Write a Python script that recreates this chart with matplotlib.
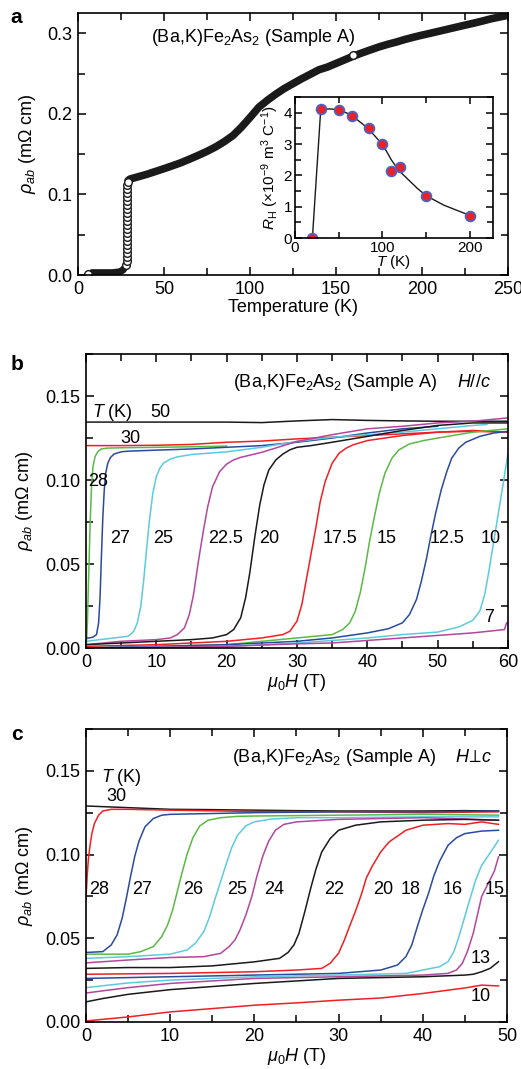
import matplotlib
matplotlib.use("Agg")
import matplotlib.pyplot as plt
from matplotlib.ticker import MultipleLocator, FormatStrFormatter

plt.rcParams['font.family'] = ['Liberation Sans', 'DejaVu Sans']
plt.rcParams['mathtext.fontset'] = 'custom'
plt.rcParams['mathtext.rm'] = 'Liberation Sans'
plt.rcParams['mathtext.it'] = 'Liberation Sans:italic'
plt.rcParams['mathtext.bf'] = 'Liberation Sans:bold'

BLACK = '#1a1a1a'
RED = '#ee2024'
GREEN = '#5cb946'
BLUE = '#2b4a9e'
CYAN = '#5ccbdc'
MAGENTA = '#b2479c'

FS = 13  # main text size

# ---- panel a: rho_ab(T) ----
a_low_T = [8, 10, 12, 14, 16, 18, 20, 22, 24, 26, 27, 27.8]
a_low_rho = [0.003, 0.003, 0.003, 0.003, 0.003, 0.003, 0.003, 0.0035, 0.004, 0.006, 0.009, 0.012]
a_trans_T = [27.9, 28.2, 28.4, 28.5, 28.5, 28.5, 28.5, 28.5, 28.5, 28.5, 28.5, 28.5,
             28.5, 28.5, 28.5, 28.5, 28.5, 28.5, 28.5, 28.6, 28.7, 28.9]
a_trans_rho = [0.012, 0.017, 0.022, 0.027, 0.032, 0.037, 0.042, 0.047, 0.052, 0.057, 0.062,
               0.067, 0.072, 0.077, 0.082, 0.087, 0.092, 0.097, 0.102, 0.107, 0.112, 0.116]
a_stray_T = [6, 160]
a_stray_rho = [0.0012, 0.2735]
a_T = [29, 30, 35, 40, 45, 50, 55, 60, 65, 70, 75, 80, 85, 90, 95, 100, 105, 110, 115, 120,
       125, 130, 135, 140, 145, 150, 155, 160, 165, 170, 175, 180, 185, 190, 195, 200, 205,
       210, 215, 220, 225, 230, 235, 240, 245, 250]
a_rho = [0.117, 0.119, 0.122, 0.125, 0.1285, 0.132, 0.1357, 0.1395, 0.144, 0.1486, 0.1535,
         0.159, 0.1655, 0.173, 0.1835, 0.1955, 0.208, 0.2167, 0.2245, 0.2315, 0.2375, 0.2435,
         0.249, 0.2546, 0.258, 0.2625, 0.267, 0.2715, 0.2755, 0.2793, 0.283, 0.2862, 0.289,
         0.2922, 0.295, 0.2976, 0.300, 0.3025, 0.305, 0.3075, 0.310, 0.3124, 0.315, 0.3178,
         0.320, 0.3222]

# inset: Hall coefficient
rh_T = [20, 30, 50, 65, 85, 100, 110, 120, 150, 200]
rh_val = [0.0, 4.12, 4.08, 3.9, 3.5, 3.0, 2.15, 2.27, 1.33, 0.72]
rh_guide_T = [20, 29.5, 35, 40, 50, 60, 70, 80, 90, 100, 105, 110, 115, 120, 130, 140, 150,
              170, 200]
rh_guide = [0.0, 4.1, 4.12, 4.12, 4.1, 3.98, 3.8, 3.58, 3.3, 2.98, 2.75, 2.5, 2.3, 2.12,
            1.85, 1.58, 1.35, 1.05, 0.72]

# ---- panel b: H // c ----
b50_H = [0, 5, 10, 15, 20, 25, 30, 35, 40, 45, 50, 55, 60]
b50_rho = [0.1345, 0.1345, 0.1345, 0.1345, 0.1345, 0.1342, 0.1352, 0.136, 0.1355, 0.1352,
           0.135, 0.135, 0.135]
b30_H = [0, 5, 10, 15, 20, 25, 30, 35, 40, 45, 50, 55, 60]
b30_rho = [0.1205, 0.1205, 0.1207, 0.1212, 0.1225, 0.1232, 0.1245, 0.1255, 0.1265, 0.1275,
           0.1285, 0.129, 0.1285]
b28_H = [0.05, 0.2, 0.4, 0.6, 0.8, 1.0, 1.3, 1.7, 2.2, 3, 5, 10, 15, 20]
b28_rho = [0.0, 0.015, 0.045, 0.075, 0.097, 0.108, 0.114, 0.117, 0.1185, 0.119, 0.1192,
           0.1195, 0.1198, 0.1202]
b27_H = [0, 0.5, 1, 1.5, 1.8, 2.0, 2.2, 2.4, 2.6, 2.8, 3.1, 3.5, 4, 5, 6, 8, 10, 15, 20, 25,
         30, 35, 40, 45, 50]
b27_rho = [0.006, 0.006, 0.0065, 0.008, 0.015, 0.03, 0.055, 0.078, 0.094, 0.104, 0.110,
           0.1135, 0.1155, 0.1168, 0.1172, 0.1175, 0.1178, 0.1185, 0.1195, 0.1205, 0.1225,
           0.125, 0.128, 0.1305, 0.132]
b25_H = [0, 2, 4, 6, 6.8, 7.3, 7.8, 8.2, 8.6, 9.0, 9.5, 10, 10.5, 11, 12, 13, 15, 20, 25, 30,
         35, 40, 45, 50, 55, 57]
b25_rho = [0.004, 0.005, 0.006, 0.007, 0.010, 0.015, 0.025, 0.040, 0.058, 0.075, 0.092,
           0.102, 0.107, 0.110, 0.1125, 0.1138, 0.1152, 0.1168, 0.1195, 0.123, 0.1255, 0.127,
           0.1285, 0.1305, 0.1325, 0.133]
b22_H = [0, 5, 10, 12, 13, 14, 14.7, 15.3, 16, 16.7, 17.3, 18, 19, 20, 21, 22, 25, 30, 35,
         40, 45, 50, 55, 60]
b22_rho = [0.002, 0.004, 0.005, 0.006, 0.008, 0.012, 0.020, 0.032, 0.052, 0.070, 0.084,
           0.096, 0.105, 0.1095, 0.112, 0.1135, 0.1165, 0.123, 0.127, 0.1305, 0.132, 0.134,
           0.135, 0.137]
b20_H = [0, 5, 10, 15, 18, 20, 21, 22, 22.7, 23.3, 24, 24.7, 25.3, 26, 27, 28, 29, 30, 32,
         35, 40, 45, 50, 55, 60]
b20_rho = [0.002, 0.003, 0.004, 0.005, 0.006, 0.008, 0.011, 0.018, 0.030, 0.045, 0.066,
           0.085, 0.097, 0.106, 0.112, 0.1155, 0.118, 0.1195, 0.1205, 0.1225, 0.126, 0.1295,
           0.1325, 0.134, 0.134]
b17_H = [0, 10, 20, 25, 28, 29, 30, 30.7, 31.3, 32, 32.7, 33.3, 34, 35, 36, 37, 38, 40, 45,
         50, 55, 60]
b17_rho = [0.001, 0.002, 0.004, 0.006, 0.008, 0.010, 0.016, 0.026, 0.040, 0.056, 0.072,
           0.087, 0.099, 0.110, 0.116, 0.119, 0.121, 0.1235, 0.1265, 0.1285, 0.1295, 0.1285]
b15_H = [0, 10, 20, 30, 35, 36.5, 37.5, 38.3, 39, 39.7, 40.3, 41, 41.7, 42.5, 43.5, 44.5, 46,
         48, 50, 55, 60]
b15_rho = [0.000, 0.001, 0.002, 0.006, 0.008, 0.011, 0.015, 0.022, 0.033, 0.048, 0.063,
           0.078, 0.092, 0.104, 0.113, 0.118, 0.1215, 0.1235, 0.125, 0.1285, 0.1305]
b12_H = [0, 10, 20, 30, 35, 40, 43, 45, 46, 47, 47.7, 48.4, 49, 49.7, 50.5, 51.3, 52, 53, 54,
         56, 58, 60]
b12_rho = [0.000, 0.001, 0.002, 0.004, 0.006, 0.009, 0.0115, 0.015, 0.020, 0.029, 0.040,
           0.053, 0.066, 0.080, 0.094, 0.105, 0.113, 0.119, 0.1225, 0.126, 0.128, 0.129]
b10_H = [0, 10, 20, 30, 40, 45, 50, 53, 55, 56, 56.7, 57.3, 58, 58.7, 59.4, 60]
b10_rho = [0.000, 0.0005, 0.001, 0.003, 0.006, 0.008, 0.0095, 0.0125, 0.0165, 0.022, 0.032,
           0.046, 0.064, 0.082, 0.100, 0.116]
b7_H = [0, 10, 20, 30, 35, 40, 45, 50, 55, 59.5, 59.8]
b7_rho = [0.000, 0.0005, 0.001, 0.0025, 0.003, 0.0045, 0.006, 0.0075, 0.009, 0.011, 0.015]

# ---- panel c: H perp c ----
c30_H = [0, 5, 10, 15, 20, 25, 30, 35, 40, 45, 49]
c30_rho = [0.129, 0.128, 0.127, 0.1268, 0.1265, 0.1262, 0.126, 0.126, 0.126, 0.1262, 0.126]
c28_H = [0, 0.15, 0.3, 0.5, 0.7, 1.0, 1.5, 2, 3, 5, 10, 20, 30, 40, 49]
c28_rho = [0.073, 0.088, 0.098, 0.106, 0.1125, 0.1185, 0.1235, 0.126, 0.127, 0.127, 0.1265,
           0.1257, 0.1255, 0.125, 0.1255]
c27_H = [0, 2, 3, 3.7, 4.3, 4.8, 5.3, 5.8, 6.3, 7, 8, 9, 10, 15, 20, 30, 40, 49]
c27_rho = [0.0415, 0.042, 0.046, 0.052, 0.062, 0.074, 0.087, 0.099, 0.108, 0.1165, 0.1215,
           0.1235, 0.124, 0.1245, 0.125, 0.1255, 0.1255, 0.126]
c26_H = [0, 5, 6.5, 8, 9, 9.7, 10.3, 10.8, 11.3, 12, 12.7, 13.5, 14.5, 16, 18, 20, 30, 40, 49]
c26_rho = [0.0405, 0.0405, 0.042, 0.045, 0.051, 0.058, 0.067, 0.077, 0.087, 0.100, 0.110,
           0.117, 0.1205, 0.122, 0.1228, 0.123, 0.1235, 0.124, 0.1235]
c25_H = [0, 5, 10, 12, 13, 14, 14.7, 15.3, 16, 16.7, 17.3, 18, 19, 20, 22, 25, 30, 40, 49]
c25_rho = [0.038, 0.039, 0.0405, 0.043, 0.047, 0.054, 0.063, 0.073, 0.084, 0.095, 0.104,
           0.1115, 0.1172, 0.1195, 0.1212, 0.122, 0.122, 0.1225, 0.1225]
c24_H = [0, 5, 10, 14, 16, 17, 17.7, 18.3, 19, 19.7, 20.3, 21, 21.7, 22.5, 23.5, 25, 30, 40,
         45, 49]
c24_rho = [0.0353, 0.037, 0.0385, 0.039, 0.041, 0.045, 0.049, 0.055, 0.064, 0.075, 0.087,
           0.099, 0.108, 0.1145, 0.118, 0.1195, 0.121, 0.122, 0.1212, 0.1205]
c22_H = [0, 5, 10, 15, 20, 23, 24, 24.7, 25.3, 26, 26.7, 27.3, 28, 29, 30, 32, 35, 40, 45, 49]
c22_rho = [0.032, 0.0325, 0.0325, 0.0335, 0.0359, 0.038, 0.0415, 0.046, 0.053, 0.066, 0.080,
           0.091, 0.1015, 0.1095, 0.1145, 0.1175, 0.1195, 0.1205, 0.121, 0.1205]
c20_H = [0, 10, 20, 25, 28, 29, 30, 30.7, 31.3, 32, 32.7, 33.3, 34, 35, 36, 38, 40, 43, 45,
         47, 49]
c20_rho = [0.0285, 0.029, 0.030, 0.031, 0.032, 0.035, 0.041, 0.049, 0.057, 0.066, 0.076,
           0.086, 0.093, 0.1015, 0.1075, 0.1145, 0.1175, 0.1185, 0.118, 0.1195, 0.118]
c18_H = [0, 10, 20, 30, 35, 37, 38, 38.7, 39.3, 40, 40.7, 41.3, 42, 43, 44, 45, 47, 49]
c18_rho = [0.026, 0.027, 0.028, 0.029, 0.031, 0.034, 0.039, 0.046, 0.056, 0.067, 0.077,
           0.087, 0.096, 0.1055, 0.110, 0.1125, 0.114, 0.1145]
c16_H = [0, 5, 10, 20, 30, 38, 40, 42, 43, 43.7, 44.3, 45, 45.7, 46.3, 47, 48, 49]
c16_rho = [0.0205, 0.0233, 0.025, 0.027, 0.028, 0.029, 0.031, 0.033, 0.036, 0.042, 0.051,
           0.063, 0.075, 0.085, 0.0935, 0.101, 0.1085]
c15_H = [0, 5, 10, 20, 30, 40, 43, 44, 44.7, 45.3, 46, 46.5, 47, 47.5, 48, 48.5, 49]
c15_rho = [0.0173, 0.0205, 0.023, 0.026, 0.027, 0.028, 0.029, 0.031, 0.035, 0.042, 0.053,
           0.064, 0.075, 0.080, 0.085, 0.090, 0.0986]
c13_H = [0, 2, 5, 10, 20, 30, 40, 45, 46, 47, 48, 49]
c13_rho = [0.012, 0.014, 0.0165, 0.0193, 0.023, 0.026, 0.027, 0.028, 0.0285, 0.030, 0.032,
           0.036]
c10_H = [0, 5, 10, 15, 20, 25, 30, 35, 40, 45, 47, 49]
c10_rho = [0.0006, 0.003, 0.006, 0.008, 0.010, 0.0114, 0.013, 0.0143, 0.017, 0.0203, 0.022,
           0.0215]

# temperature labels: (text, H, rho)
b_labels = [("50", 10.6, 0.140), ("30", 6.3, 0.125), ("28", 1.75, 0.099), ("27", 4.8, 0.065),
            ("25", 10.9, 0.065), ("22.5", 19.9, 0.065), ("20", 26.1, 0.065),
            ("17.5", 36.1, 0.065), ("15", 42.7, 0.065), ("12.5", 51.4, 0.065),
            ("10", 57.5, 0.065), ("7", 57.3, 0.018)]
c_labels = [("30", 3.6, 0.1345), ("28", 1.6, 0.079), ("27", 6.7, 0.079), ("26", 12.7, 0.079),
            ("25", 18.0, 0.079), ("24", 22.4, 0.079), ("22", 29.5, 0.079),
            ("20", 35.3, 0.079), ("18", 38.6, 0.079), ("16", 43.6, 0.079),
            ("15", 48.5, 0.079), ("13", 46.9, 0.038), ("10", 46.9, 0.015)]


def style_axes(ax, major_x, minor_x, major_y, minor_y, size=FS):
    ax.xaxis.set_major_locator(MultipleLocator(major_x))
    ax.xaxis.set_minor_locator(MultipleLocator(minor_x))
    ax.yaxis.set_major_locator(MultipleLocator(major_y))
    ax.yaxis.set_minor_locator(MultipleLocator(minor_y))
    ax.tick_params(which='both', direction='in', top=True, right=True, width=1.1)
    ax.tick_params(which='major', length=6, labelsize=size, pad=4)
    ax.tick_params(which='minor', length=5)
    for s in ax.spines.values():
        s.set_linewidth(1.2)


fig = plt.figure(figsize=(5.21, 10.69), dpi=100)

# panel a
ax_a = fig.add_axes([0.150, 0.7427, 0.825, 0.2451])
ax_a.plot(a_low_T, a_low_rho, color=BLACK, lw=5, solid_capstyle='round')
ax_a.plot(a_T, a_rho, color=BLACK, lw=5.5, solid_capstyle='round')
ax_a.plot(a_trans_T, a_trans_rho, 'o', ms=5.5, mfc='white', mec=BLACK, mew=1.0)
ax_a.plot(a_stray_T, a_stray_rho, 'o', ms=5.5, mfc='white', mec=BLACK, mew=1.0)
ax_a.set_xlim(0, 250)
ax_a.set_ylim(0, 0.325)
style_axes(ax_a, 50, 25, 0.1, 0.05)
ax_a.yaxis.set_major_formatter(FormatStrFormatter('%.1f'))
ax_a.set_xlabel('Temperature (K)', fontsize=FS, labelpad=1)
ax_a.set_ylabel(r'$\rho_{ab}$ (mΩ cm)', fontsize=FS, labelpad=7)
ax_a.text(102, 0.295, r'(Ba,K)Fe$_2$As$_2$ (Sample A)', fontsize=FS, ha='center', va='center')

ax_in = fig.add_axes([0.566, 0.7773, 0.380, 0.1319])
ax_in.plot(rh_guide_T, rh_guide, color=BLACK, lw=1.0)
ax_in.plot(rh_T, rh_val, 'o', ms=7, mfc='#ec2027', mec='#4a62c4', mew=1.3)
ax_in.set_xlim(0, 226)
ax_in.set_ylim(0, 4.5)
style_axes(ax_in, 100, 50, 1, 0.5, size=11)
ax_in.tick_params(which='major', length=5, pad=2)
ax_in.tick_params(which='minor', length=4)
ax_in.set_xlabel(r'$T$ (K)', fontsize=11, labelpad=-1)
ax_in.set_ylabel(r'$R_{\rm H}$ (×10$^{-9}$ m$^3$ C$^{-1}$)', fontsize=11, labelpad=2)

# panel b
ax_b = fig.add_axes([0.165, 0.3938, 0.810, 0.2750])
b_curves = [(b50_H, b50_rho, BLACK), (b30_H, b30_rho, RED), (b28_H, b28_rho, GREEN),
            (b27_H, b27_rho, BLUE), (b25_H, b25_rho, CYAN), (b22_H, b22_rho, MAGENTA),
            (b20_H, b20_rho, BLACK), (b17_H, b17_rho, RED), (b15_H, b15_rho, GREEN),
            (b12_H, b12_rho, BLUE), (b10_H, b10_rho, CYAN), (b7_H, b7_rho, MAGENTA)]
for h, r, c in b_curves:
    ax_b.plot(h, r, color=c, lw=1.1)
ax_b.set_xlim(0, 60)
ax_b.set_ylim(0, 0.175)
style_axes(ax_b, 10, 5, 0.05, 0.025)
ax_b.yaxis.set_major_formatter(FormatStrFormatter('%.2f'))
ax_b.set_xlabel(r'$\mu_0H$ (T)', fontsize=FS, labelpad=1)
ax_b.set_ylabel(r'$\rho_{ab}$ (mΩ cm)', fontsize=FS, labelpad=7)
ax_b.text(35.5, 0.158, r'(Ba,K)Fe$_2$As$_2$ (Sample A)', fontsize=FS, ha='center', va='center')
ax_b.text(55.2, 0.158, r'$H//c$', fontsize=FS, ha='center', va='center')
ax_b.text(0.9, 0.140, r'$T$ (K)', fontsize=FS, ha='left', va='center')
for txt, h, r in b_labels:
    ax_b.text(h, r, txt, fontsize=FS, ha='center', va='center')

# panel c
ax_c = fig.add_axes([0.165, 0.0440, 0.808, 0.2741])
c_curves = [(c30_H, c30_rho, BLACK), (c28_H, c28_rho, RED), (c27_H, c27_rho, BLUE),
            (c26_H, c26_rho, GREEN), (c25_H, c25_rho, CYAN), (c24_H, c24_rho, MAGENTA),
            (c22_H, c22_rho, BLACK), (c20_H, c20_rho, RED), (c18_H, c18_rho, BLUE),
            (c16_H, c16_rho, CYAN), (c15_H, c15_rho, MAGENTA), (c13_H, c13_rho, BLACK),
            (c10_H, c10_rho, RED)]
for h, r, c in c_curves:
    ax_c.plot(h, r, color=c, lw=1.1)
ax_c.set_xlim(0, 50)
ax_c.set_ylim(0, 0.175)
style_axes(ax_c, 10, 5, 0.05, 0.025)
ax_c.yaxis.set_major_formatter(FormatStrFormatter('%.2f'))
ax_c.set_xlabel(r'$\mu_0H$ (T)', fontsize=FS, labelpad=1)
ax_c.set_ylabel(r'$\rho_{ab}$ (mΩ cm)', fontsize=FS, labelpad=7)
ax_c.text(29.5, 0.158, r'(Ba,K)Fe$_2$As$_2$ (Sample A)', fontsize=FS, ha='center', va='center')
ax_c.text(46.0, 0.158, r'$H\!\perp\!c$', fontsize=FS, ha='center', va='center')
ax_c.text(1.8, 0.146, r'$T$ (K)', fontsize=FS, ha='left', va='center')
for txt, h, r in c_labels:
    ax_c.text(h, r, txt, fontsize=FS, ha='center', va='center')

fig.text(16.5 / 521, 1 - 17.5 / 1069, 'a', fontsize=15, fontweight='bold', ha='center', va='center')
fig.text(17 / 521, 1 - 364 / 1069, 'b', fontsize=15, fontweight='bold', ha='center', va='center')
fig.text(17 / 521, 1 - 735 / 1069, 'c', fontsize=15, fontweight='bold', ha='center', va='center')

fig.savefig('out.png', dpi=100)
